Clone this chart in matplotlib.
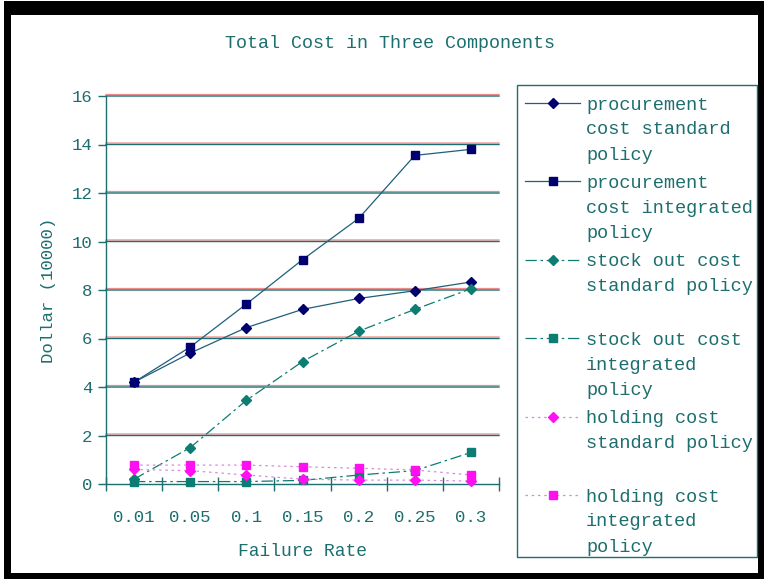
import matplotlib
matplotlib.use("Agg")
import matplotlib.pyplot as plt
from matplotlib.patches import Rectangle
from matplotlib.transforms import offset_copy

# ---- data -------------------------------------------------------------
categories = ["0.01", "0.05", "0.1", "0.15", "0.2", "0.25", "0.3"]
proc_std = [4.2, 5.4, 6.45, 7.2, 7.65, 7.97, 8.33]
proc_int = [4.2, 5.65, 7.42, 9.25, 10.95, 13.55, 13.8]
stock_std = [0.2, 1.5, 3.45, 5.05, 6.3, 7.2, 8.05]
stock_int = [0.1, 0.1, 0.1, 0.15, 0.37, 0.55, 1.3]
hold_std = [0.6, 0.55, 0.37, 0.2, 0.16, 0.16, 0.12]
hold_int = [0.78, 0.78, 0.78, 0.71, 0.65, 0.58, 0.37]
y_ticks = [0, 2, 4, 6, 8, 10, 12, 14, 16]

labels = [
    ["procurement", "cost standard", "policy"],
    ["procurement", "cost integrated", "policy"],
    ["stock out cost", "standard policy"],
    ["stock out cost", "integrated", "policy"],
    ["holding cost", "standard policy"],
    ["holding cost", "integrated", "policy"],
]

# ---- styles -----------------------------------------------------------
INK = "#1d6e6e"
FRINGE = "#ee8c8c"
FONT = "Liberation Mono"
proc_line = "#1f5f7a"
navy = "#000070"
teal = "#0b7d72"
magenta = "#ff10f0"
hold_line = "#d98ae0"

styles = [
    dict(color=proc_line, lw=0.9, ls="-", marker="D", ms=4.8, mfc=navy, mec=navy),
    dict(color=proc_line, lw=0.9, ls="-", marker="s", ms=6.2, mfc=navy, mec=navy),
    dict(color=teal, lw=0.9, ls=(0, (9, 3, 2, 3)), marker="D", ms=4.8, mfc=teal, mec=teal),
    dict(color=teal, lw=0.9, ls=(0, (9, 3, 2, 3)), marker="s", ms=6.2, mfc=teal, mec=teal),
    dict(color=hold_line, lw=0.9, ls=(0, (2, 3)), marker="D", ms=4.8, mfc=magenta, mec=magenta),
    dict(color=hold_line, lw=0.9, ls=(0, (2, 3)), marker="s", ms=6.2, mfc=magenta, mec=magenta),
]
series = [proc_std, proc_int, stock_std, stock_int, hold_std, hold_int]

W, H = 764, 579
fig = plt.figure(figsize=(W / 100, H / 100), dpi=100, facecolor="white")

def fx(px):
    return px / W

def fy(py):
    return 1 - py / H

# outer black frame
fig.patches.append(Rectangle((fx(4), fy(579)), fx(760), fy(1) - fy(579),
                             transform=fig.transFigure, facecolor="black",
                             edgecolor="none", zorder=-20))
fig.patches.append(Rectangle((fx(11), fy(573)), fx(747), fy(15) - fy(573),
                             transform=fig.transFigure, facecolor="white",
                             edgecolor="none", zorder=-19))

# ---- plot area ----------------------------------------------------------
left, right, top, bottom = 106, 499, 96, 484
ax = fig.add_axes([fx(left), fy(bottom), fx(right - left), fy(top) - fy(bottom)])
ax.set_facecolor("none")
x = list(range(len(categories)))
ax.set_xlim(-0.5, len(categories) - 0.5)
ax.set_ylim(0, 16)

# horizontal gridlines with a faint red fringe just above each
fringe_tr = offset_copy(ax.get_yaxis_transform(), fig=fig, x=0, y=1.5, units="dots")
for yv in y_ticks[1:]:
    ax.plot([0, 1], [yv, yv], transform=fringe_tr, color=FRINGE, lw=0.9, zorder=0.9,
            clip_on=False, snap=False)
    ax.plot([0, 1], [yv, yv], transform=ax.get_yaxis_transform(), color=INK, lw=1.0,
            zorder=1, clip_on=False, snap=False)

for vals, st in zip(series, styles):
    ax.plot(x, vals, zorder=3, clip_on=False, **st)

for s in ["top", "right"]:
    ax.spines[s].set_visible(False)
for s in ["left", "bottom"]:
    ax.spines[s].set_color(INK)
    ax.spines[s].set_linewidth(1.0)

ax.set_yticks(y_ticks)
ax.set_yticklabels([str(v) for v in y_ticks])
ax.tick_params(axis="y", direction="out", length=6, width=1, color=INK, labelcolor=INK,
               labelsize=12.5, pad=4)
ax.set_xticks(x)
ax.set_xticklabels(categories)
ax.set_xticks([i - 0.5 for i in range(len(categories) + 1)], minor=True)
ax.tick_params(axis="x", which="major", length=0, labelcolor=INK, labelsize=12.5, pad=19)
ax.tick_params(axis="x", which="minor", direction="inout", length=10, width=1, color=INK)
for lab in ax.get_xticklabels() + ax.get_yticklabels():
    lab.set_fontfamily(FONT)

ax.set_xlabel("Failure Rate", fontfamily=FONT, fontsize=13, color=INK, labelpad=13)
ax.set_ylabel("Dollar (10000)", fontfamily=FONT, fontsize=12.5, color=INK, labelpad=11)

fig.text(fx(390), fy(43), "Total Cost in Three Components", fontfamily=FONT,
         fontsize=13.2, color=INK, ha="center", va="center")

# ---- legend ------------------------------------------------------------
lax = fig.add_axes([0, 0, 1, 1], facecolor="none")
lax.set_xlim(0, W)
lax.set_ylim(H, 0)
lax.axis("off")
lax.add_patch(Rectangle((517, 85), 240, 472, facecolor="none", edgecolor=INK, lw=1.0))
slot0, slot_h, line_h = 103, 78.4, 25
for i, (lines, st) in enumerate(zip(labels, styles)):
    yc = slot0 + i * slot_h
    hs = dict(st)
    mk = hs.pop("marker")
    ms = hs.pop("ms")
    mfc = hs.pop("mfc")
    mec = hs.pop("mec")
    lax.plot([525, 580], [yc, yc], **hs)
    lax.plot([553], [yc], marker=mk, ms=ms, mfc=mfc, mec=mec, ls="none")
    for k, t in enumerate(lines):
        lax.text(586, yc + k * line_h, t, fontfamily=FONT, fontsize=13.4, color=INK,
                 ha="left", va="center_baseline")

fig.savefig("out.png", dpi=100, facecolor="white")
